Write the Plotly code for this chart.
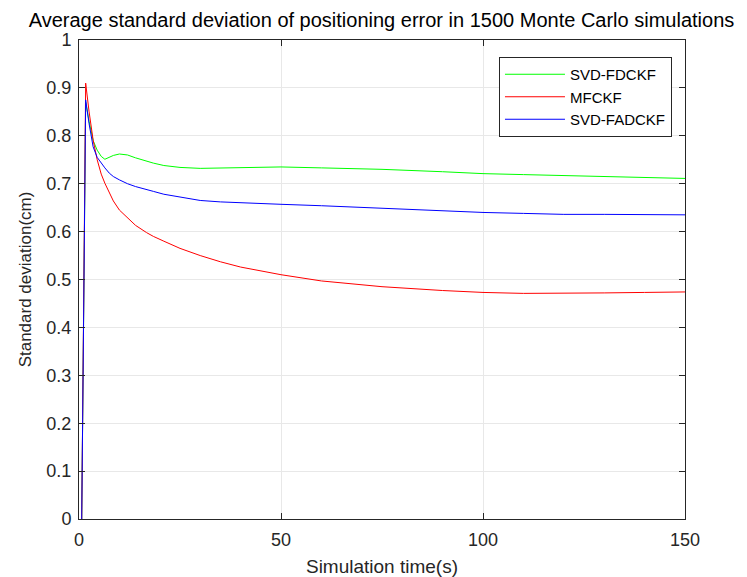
import plotly.graph_objects as go

t = [0.67, 1.65, 2.5, 3.5, 4.5, 5.5, 6.4, 7.5, 8.5, 10, 12, 14, 16.7, 18.4, 21, 25, 30, 35, 40, 50, 60, 75, 90, 100, 110, 120, 130, 140, 150]

green = [0.0, 0.87, 0.83, 0.79, 0.77, 0.757, 0.751, 0.755, 0.759, 0.762, 0.76, 0.754, 0.747, 0.743, 0.738, 0.734, 0.732, 0.733, 0.734, 0.735, 0.733, 0.73, 0.725, 0.721, 0.719, 0.717, 0.715, 0.713, 0.711]
red = [0.0, 0.91, 0.85, 0.791, 0.75, 0.72, 0.701, 0.68, 0.664, 0.645, 0.628, 0.613, 0.598, 0.59, 0.58, 0.565, 0.55, 0.537, 0.526, 0.51, 0.497, 0.485, 0.477, 0.473, 0.471, 0.471, 0.472, 0.473, 0.474]
blue = [0.0, 0.875, 0.825, 0.777, 0.755, 0.742, 0.733, 0.722, 0.715, 0.708, 0.7, 0.694, 0.687, 0.684, 0.678, 0.672, 0.665, 0.662, 0.66, 0.657, 0.654, 0.649, 0.643, 0.64, 0.638, 0.636, 0.636, 0.635, 0.635]

names = ["SVD-FDCKF", "MFCKF", "SVD-FADCKF"]
colors = ["#00ff00", "#ff0000", "#0000ff"]

fig = go.Figure()
for name, ys, c in zip(names, [green, red, blue], colors):
    fig.add_trace(go.Scatter(x=t, y=ys, mode="lines", name=name, line=dict(color=c, width=1)))

font = "Liberation Sans, Arial, sans-serif"
axcommon = dict(showline=True, linecolor="#262626", linewidth=1, mirror="ticks", ticks="inside", ticklen=6,
                tickcolor="#262626", showgrid=True, gridcolor="#e8e8e8", zeroline=False, automargin=False,
                tickfont=dict(size=18, color="#262626", family=font))
fig.update_layout(
    width=747, height=577,
    paper_bgcolor="white", plot_bgcolor="white",
    margin=dict(l=71, r=70, t=32, b=66),
    title=dict(text="Average standard deviation of positioning error in 1500 Monte Carlo simulations",
               x=0.5, xanchor="center", y=0.979, yanchor="middle",
               font=dict(size=20, color="black", family=font)),
    xaxis=dict(range=[0, 150], tickvals=[0, 50, 100, 150], ticklabelstandoff=4,
               title=dict(text="Simulation time(s)", font=dict(size=19, color="#262626", family=font), standoff=11),
               **axcommon),
    yaxis=dict(range=[0, 1], tickvals=[i / 10 for i in range(11)], ticklabelstandoff=3,
               ticktext=["0", "0.1", "0.2", "0.3", "0.4", "0.5", "0.6", "0.7", "0.8", "0.9", "1"],
               title=dict(text="Standard deviation(cm)", font=dict(size=17, color="#262626", family=font), standoff=10),
               **axcommon),
    legend=dict(x=0.9785, y=0.9645, xanchor="right", yanchor="top", bgcolor="white",
                bordercolor="#262626", borderwidth=1,
                font=dict(size=15, color="black", family=font), tracegroupgap=0,
                itemwidth=60),
    showlegend=True,
)

fig.write_html("out.html")
